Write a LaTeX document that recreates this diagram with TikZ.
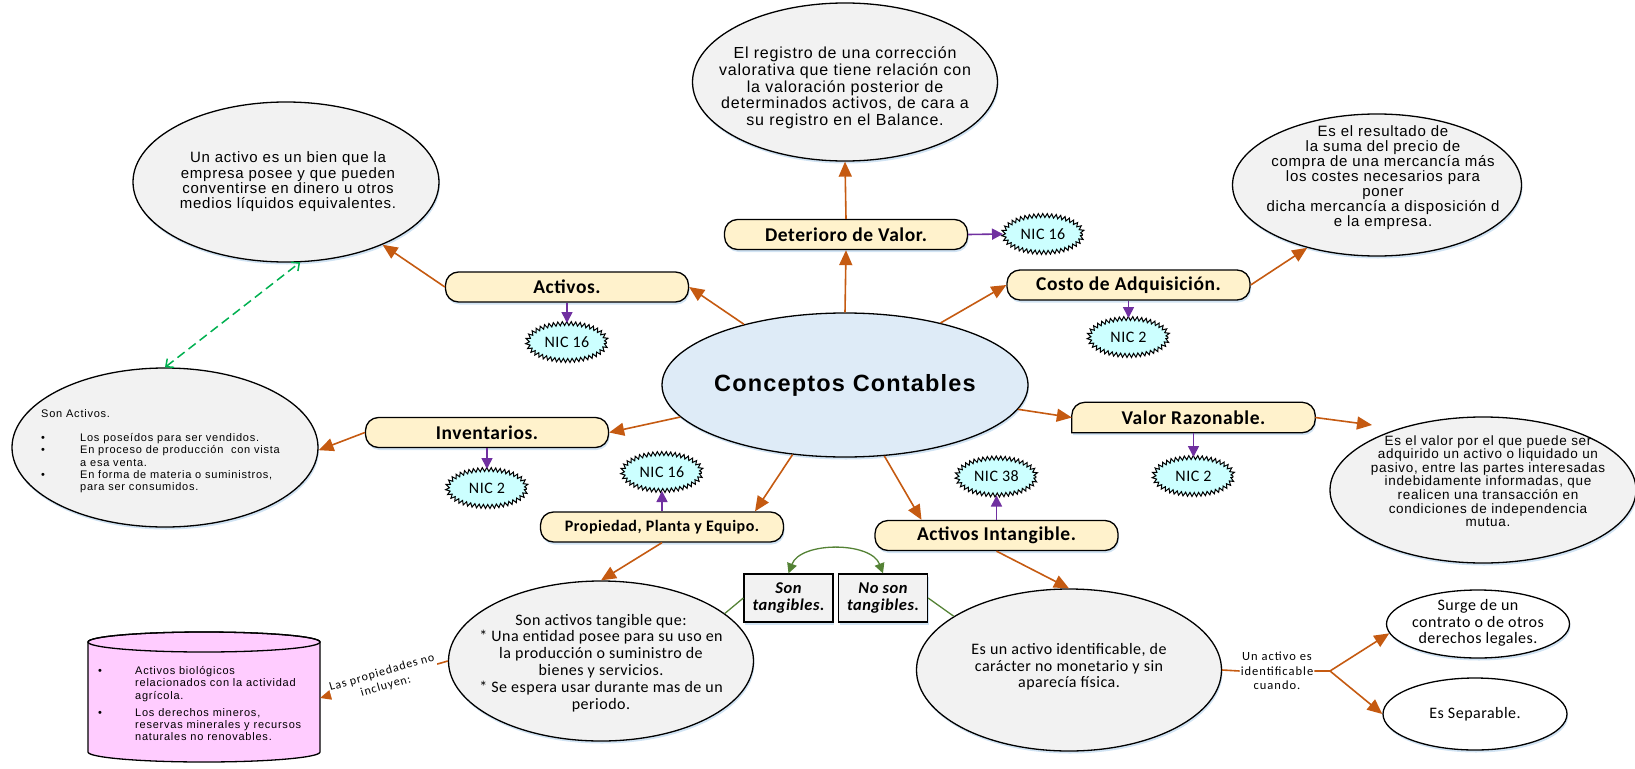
\documentclass[tikz,border=0pt]{standalone}
\usepackage{fontspec}
\setmainfont{Liberation Sans}
\newfontfamily\arl{Liberation Sans}[LetterSpace=5]
\newfontfamily\ars{Liberation Sans}[LetterSpace=7]
\newfontfamily\cbl{Carlito}[LetterSpace=3]
\newfontfamily\cbs{Carlito}[LetterSpace=8]
\usetikzlibrary{shapes.geometric,arrows.meta,decorations.pathmorphing,shadows,calc}

\definecolor{flowc}{HTML}{C55A11}
\definecolor{nicc}{HTML}{7030A0}
\definecolor{linkc}{HTML}{00B050}
\definecolor{olivec}{HTML}{548235}
\definecolor{boxc}{HTML}{FFF2CC}
\definecolor{ovalc}{HTML}{F2F2F2}
\definecolor{corec}{HTML}{DEEBF7}
\definecolor{starc}{HTML}{CCFFFF}
\definecolor{cylc}{HTML}{FFCCFF}
\definecolor{glowc}{HTML}{BDD7EE}

\pgfdeclarelayer{bg}
\pgfsetlayers{bg,main}

\tikzset{
  softshadow/.style={drop shadow={shadow xshift=1pt, shadow yshift=-2.5pt, fill=glowc, opacity=.7}},
  oval/.style={ellipse, draw=black, line width=1.3pt, fill=ovalc, inner sep=0pt, softshadow},
  conceptbase/.style={rectangle, inner sep=0pt, minimum width=243pt, minimum height=30pt,
    font=\cbl\bfseries\fontsize{19.5}{20}\selectfont},
  concept/.style={conceptbase, rounded corners=13pt, draw=black, line width=1.3pt, fill=boxc, softshadow},
  nic/.style={ellipse, draw=black, line width=1pt, fill=starc, minimum width=79pt, minimum height=37pt,
    inner sep=0pt, decorate, decoration={zigzag, segment length=4.4pt, amplitude=2pt},
    font=\cbl\fontsize{16}{16}\selectfont},
  tag/.style={rectangle, draw=black, line width=1.3pt, fill=ovalc, minimum width=89pt, minimum height=48pt,
    inner sep=0pt, align=center, font=\cbl\bfseries\itshape\fontsize{16.5}{17}\selectfont, softshadow},
  txt/.style={align=center, inner sep=0pt},
  flow/.style={draw=flowc, line width=1.6pt, -{Triangle[length=15pt,width=13pt]}},
  flowline/.style={draw=flowc, line width=1.6pt},
  nicarrow/.style={draw=nicc, line width=1.6pt, -{Triangle[length=11pt,width=11pt]}},
  oliveline/.style={draw=olivec, line width=1.3pt},
  olivearrow/.style={draw=olivec, line width=1.3pt,
    {Triangle[length=10pt,width=10pt]}-{Triangle[length=10pt,width=10pt]}},
  dashlink/.style={draw=linkc, line width=1.5pt, dash pattern=on 9pt off 5pt,
    {Straight Barb[length=6pt,width=11pt]}-{Straight Barb[length=6pt,width=11pt]}},
}

\begin{document}
\begin{tikzpicture}[x=1pt, y=-1pt]
\useasboundingbox (0,0) rectangle (1635,768);

% ---------- ovals holding the definitions
\node[oval, fill=corec, minimum width=366pt, minimum height=144pt] (cc) at (845,385) {};
\node[txt, font=\arl\bfseries\fontsize{23.5}{24}\selectfont] (cc-t) at (cc) {Conceptos Contables};

\node[oval, minimum width=305pt, minimum height=158pt] (reg) at (845,82) {};
\node[txt, font=\arl\fontsize{16}{16.7}\selectfont] (reg-t) at (845,88)
  {El registro de una corrección\\valorativa que tiene relación con\\la valoración posterior de\\determinados activos, de cara a\\su registro en el Balance.};

\node[oval, minimum width=306pt, minimum height=160pt] (una) at (286,182) {};
\node[txt, font=\arl\fontsize{15}{15.3}\selectfont] (una-t) at (288,182)
  {Un activo es un bien que la\\empresa posee y que pueden\\conventirse en dinero u otros\\medios líquidos equivalentes.};

\node[oval, minimum width=289pt, minimum height=142pt] (res) at (1377,185) {};
\node[txt, font=\arl\fontsize{15}{15}\selectfont] (res-t) at (1383,178)
  {Es el resultado de\\la suma del precio de\\compra de una mercancía más\\los costes necesarios para\\poner\\dicha mercancía a disposición d\\e la empresa.};

\node[oval, minimum width=306pt, minimum height=159pt] (sa) at (165,447.5) {};
\node[anchor=north west, inner sep=0pt, font=\ars\fontsize{11}{12.2}\selectfont] (sa-t) at (41,408.5) {%
\begin{tabular}{@{}p{39pt}@{}l@{}}
\multicolumn{2}{@{}l@{}}{Son Activos.}\\
\multicolumn{2}{@{}l@{}}{}\\
\textbullet & Los poseídos para ser vendidos.\\
\textbullet & En proceso de producción\ \ con vista\\
 & a esa venta.\\
\textbullet & En forma de materia o suministros,\\
 & para ser consumidos.
\end{tabular}};

\node[oval, minimum width=306pt, minimum height=146pt] (ev) at (1483,490) {};
\node[txt, font=\arl\fontsize{13.5}{13.6}\selectfont] (ev-t) at (1488,481)
  {Es el valor por el que puede ser\\adquirido un activo o liquidado un\\pasivo, entre las partes interesadas\\indebidamente informadas, que\\realicen una transacción en\\condiciones de independencia\\mutua.};

\node[oval, minimum width=305pt, minimum height=160pt] (sat) at (601,661) {};
\node[txt, font=\cbl\fontsize{16}{16.9}\selectfont] (sat-t) at (601,663)
  {Son activos tangible que:\\* Una entidad posee para su uso en\\la producción o suministro de\\bienes y servicios.\\* Se espera usar durante mas de un\\periodo.};

\node[oval, minimum width=305pt, minimum height=162pt] (eai) at (1069,670) {};
\node[txt, font=\cbl\fontsize{16}{16.6}\selectfont] (eai-t) at (1069,667)
  {Es un activo identificable, de\\carácter no monetario y sin\\aparecía física.};

\node[oval, fill=white, minimum width=183pt, minimum height=68pt] (surge) at (1478,624) {};
\node[txt, font=\cbl\fontsize{16}{16.7}\selectfont] (surge-t) at (1478,623)
  {Surge de un\\contrato o de otros\\derechos legales.};

\node[oval, fill=white, minimum width=184pt, minimum height=72pt, font=\cbl\fontsize{16}{16.7}\selectfont] (sep) at (1475,714) {Es Separable.};

% ---------- concept boxes
\node[concept] (det) at (846,234.5) {Deterioro de Valor.};
\node[concept] (act) at (567,287) {Activos.};
\node[concept] (cost) at (1128.5,285) {Costo de Adquisición.};
\node[concept] (inv) at (487,432.5) {Inventarios.};
\node[conceptbase] (val) at (1193.5,417.5) {Valor Razonable.};
\begin{pgfonlayer}{bg}
  \path[draw=black, line width=1.3pt, fill=boxc, softshadow, rounded corners=13pt]
    (val.west) -- (val.north west) -- (val.north east) -- (val.south east) -- (val.south)
    [sharp corners] -- (val.south west) -- cycle;
\end{pgfonlayer}
\node[concept, font=\cbl\bfseries\fontsize{16}{17}\selectfont] (ppe) at (662,527) {Propiedad, Planta y Equipo.};
\node[concept] (ai) at (996.5,535.5) {Activos Intangible.};

\node[tag] (son) at (788.5,598) {Son\\tangibles.};
\node[tag] (noson) at (883,598) {No son\\tangibles.};

% ---------- standards
\node[nic] (n-det) at (1043,234) {NIC 16};
\node[nic] (n-act) at (567,342) {NIC 16};
\node[nic] (n-cost) at (1128.5,337) {NIC 2};
\node[nic] (n-inv) at (487,488) {NIC 2};
\node[nic] (n-val) at (1193.5,476) {NIC 2};
\node[nic] (n-ppe) at (662,472) {NIC 16};
\node[nic] (n-ai) at (996.5,476.5) {NIC 38};

% ---------- storage cylinder
\draw[line width=1.3pt, fill=cylc]
  (88,642) -- (88,752) arc[start angle=180, end angle=360, x radius=116pt, y radius=10pt]
  -- (320,642) arc[start angle=0, end angle=180, x radius=116pt, y radius=10pt] -- cycle;
\draw[line width=1.3pt] (204,642) ellipse[x radius=116pt, y radius=10pt];
\node[anchor=north west, inner sep=0pt, font=\ars\fontsize{11}{12.2}\selectfont] (cyl-t) at (98,666) {%
\begin{tabular}{@{}p{37pt}@{}l@{}}
\textbullet & Activos biológicos\\
 & relacionados con la actividad\\
 & agrícola.\\[5pt]
\textbullet & Los derechos mineros,\\
 & reservas minerales y recursos\\
 & naturales no renovables.
\end{tabular}};
\coordinate (cylR) at (320,698);

% ---------- connectors
\draw[flow] (cc.north) -- (det.south);
\draw[flow] (det.north) -- (reg.south);
\draw[flow] (cc.149) -- (act.east);
\draw[flow] (act.west) -- (una.-33);
\draw[flow] (cc.33) -- (cost.west);
\draw[flow] (cost.east) -- (res.222);
\draw[flow] (cc.-8) -- (val.west);
\coordinate (evin) at (1372,425);
\draw[flow] (val.east) -- (evin);
\draw[flow] (cc.191) -- (inv.east);
\draw[flow] (inv.west) -- (sa.-1);
\draw[flow] (cc.233) -- ($(ppe.north)+(93,0)$);
\draw[flow] (cc.-61) -- ($(ai.north)+(-75,0)$);
\draw[flow] (ppe.south) -- (sat.north);
\draw[flow] (ai.south) -- (eai.north);

\draw[flow] (sat.west) -- node[sloped, fill=white, inner sep=1pt, align=center,
    font=\cbs\fontsize{12}{14}\selectfont] (lbl1) {Las propiedades no\\incluyen:} (cylR);

\node[txt, fill=white, inner sep=1pt, font=\cbs\fontsize{12.5}{14.5}\selectfont] (lbl2) at (1277,671)
  {Un activo es\\identificable\\cuando.};
\coordinate (br) at (1330,671);
\draw[flowline] (eai.east) -- (lbl2.west) (lbl2.east) -- (br);
\draw[flow] (br) -- (surge.186);
\draw[flow] (br) -- (sep.west);

\draw[nicarrow] (det.east) -- (n-det.west);
\draw[nicarrow] (act.south) -- (n-act.north);
\draw[nicarrow] (cost.south) -- (n-cost.north);
\draw[nicarrow] (inv.south) -- (n-inv.north);
\draw[nicarrow] (val.south) -- (n-val.north);
\draw[nicarrow] (ppe.north) -- (n-ppe.south);
\draw[nicarrow] (ai.north) -- (n-ai.south);

\draw[oliveline] (sat.21) -- (son.west);
\draw[oliveline] (noson.east) -- (eai.155);
\draw[olivearrow] (son.north) .. controls +(12,-32) and +(-12,-32) .. (noson.north);

\draw[dashlink] (sa.north) -- (una.-80);
\end{tikzpicture}
\end{document}
